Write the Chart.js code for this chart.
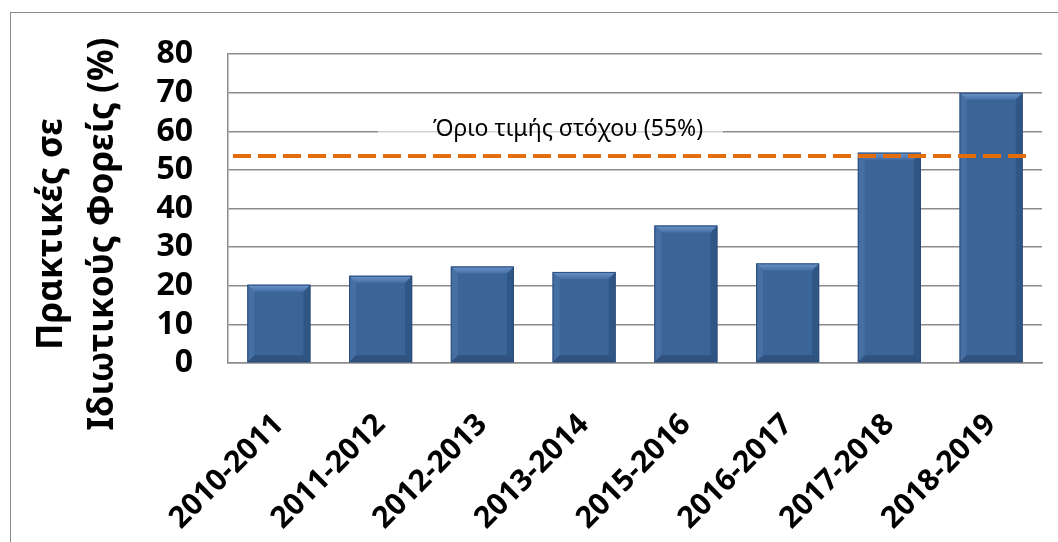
<!DOCTYPE html>
<html lang="el">
<head>
  <meta charset="UTF-8">
  <title>Πρακτικές σε Ιδιωτικούς Φορείς</title>
  <script src="https://cdn.jsdelivr.net/npm/chart.js"></script>
  <style>
    html, body { margin: 0; padding: 0; background: #fff; overflow: hidden; }
    #wrap { position: relative; width: 1058px; height: 542px; }
    #frame {
      position: absolute; left: 10px; top: 12px; width: 1100px; height: 600px;
      border: 1.5px solid #8c8c8c; pointer-events: none;
    }
  </style>
</head>
<body>
  <div id="wrap">
    <canvas id="practiceChart"></canvas>
    <div id="frame"></div>
  </div>

  <script>
    var years = ["2010-2011", "2011-2012", "2012-2013", "2013-2014", "2015-2016", "2016-2017", "2017-2018", "2018-2019"];
    var shares = [20.3, 22.6, 25.0, 23.6, 35.6, 25.8, 54.5, 70.0];
    var yTicks = [0, 10, 20, 30, 40, 50, 60, 70, 80];
    var targetValue = 53.6;
    var targetLabel = "Όριο τιμής στόχου (55%)";
    var yTitle = ["Πρακτικές σε", "Ιδιωτικούς Φορείς (%)"];

    var FONT = "'Noto Sans', 'Open Sans', sans-serif";

    // bevel look on the bars, like the office chart
    var bevelPlugin = {
      id: "bevel",
      afterDatasetsDraw: function (chart) {
        var ctx = chart.ctx;
        var meta = chart.getDatasetMeta(0);
        meta.data.forEach(function (bar) {
          var p = bar.getProps(["x", "y", "base", "width"], true);
          var l = p.x - p.width / 2, r = p.x + p.width / 2, t = p.y, b = p.base;
          var e = 7;
          ctx.save();
          var g = ctx.createLinearGradient(0, t, 0, t + e);
          g.addColorStop(0, "#6b96cc");
          g.addColorStop(1, "#4671a6");
          ctx.fillStyle = g;
          ctx.beginPath();
          ctx.moveTo(l, t); ctx.lineTo(r, t); ctx.lineTo(r - e, t + e); ctx.lineTo(l + e, t + e);
          ctx.closePath(); ctx.fill();
          ctx.fillStyle = "rgba(80,120,175,0.55)";
          ctx.beginPath();
          ctx.moveTo(l, t); ctx.lineTo(l + e, t + e); ctx.lineTo(l + e, b - e); ctx.lineTo(l, b);
          ctx.closePath(); ctx.fill();
          ctx.fillStyle = "rgba(30,60,100,0.35)";
          ctx.beginPath();
          ctx.moveTo(r, t); ctx.lineTo(r - e, t + e); ctx.lineTo(r - e, b - e); ctx.lineTo(r, b);
          ctx.closePath(); ctx.fill();
          ctx.fillStyle = "rgba(25,50,90,0.35)";
          ctx.beginPath();
          ctx.moveTo(l, b); ctx.lineTo(l + e, b - e); ctx.lineTo(r - e, b - e); ctx.lineTo(r, b);
          ctx.closePath(); ctx.fill();
          ctx.strokeStyle = "#2c4d7a";
          ctx.lineWidth = 1;
          ctx.strokeRect(l + 0.5, t + 0.5, p.width - 1, b - t - 1);
          ctx.restore();
        });
      }
    };

    // dashed target line with its label
    var targetPlugin = {
      id: "target",
      afterDatasetsDraw: function (chart) {
        var ctx = chart.ctx;
        var area = chart.chartArea;
        var y = chart.scales.y.getPixelForValue(targetValue);
        ctx.save();
        ctx.strokeStyle = "#e46c0a";
        ctx.lineWidth = 4;
        ctx.setLineDash([18, 7]);
        ctx.beginPath();
        ctx.moveTo(area.left + 5, y);
        ctx.lineTo(area.right - 9, y);
        ctx.stroke();
        ctx.setLineDash([]);

        var ty = chart.scales.y.getPixelForValue(60);
        ctx.fillStyle = "rgba(255,255,255,0.6)";
        ctx.fillRect(area.left + 150, ty - 16, 345, y - ty + 14);
        ctx.fillStyle = "#000";
        ctx.font = "23px " + FONT;
        ctx.textAlign = "center";
        ctx.textBaseline = "middle";
        ctx.fillText(targetLabel, area.left + 340, ty - 2);
        ctx.restore();
      }
    };

    // two line rotated axis title
    var titlePlugin = {
      id: "ytitle",
      afterDraw: function (chart) {
        var ctx = chart.ctx;
        ctx.save();
        ctx.fillStyle = "#000";
        ctx.font = "bold 35px " + FONT;
        ctx.textAlign = "center";
        ctx.textBaseline = "alphabetic";
        ctx.translate(0, 234);
        ctx.rotate(-Math.PI / 2);
        ctx.fillText(yTitle[0], 0, 62);
        ctx.fillText(yTitle[1], 0, 113);
        ctx.restore();
      }
    };

    var ctx = document.getElementById("practiceChart").getContext("2d");
    var practiceChart = new Chart(ctx, {
      type: "bar",
      data: {
        labels: years,
        datasets: [{
          label: yTitle.join(" "),
          data: shares,
          backgroundColor: "#3b6497",
          borderWidth: 0,
          barPercentage: 0.62,
          categoryPercentage: 1
        }]
      },
      options: {
        responsive: true,
        maintainAspectRatio: false,
        animation: false,
        layout: { padding: { top: 49, right: 16, left: 0, bottom: 0 } },
        plugins: {
          legend: { display: false },
          tooltip: { enabled: false }
        },
        scales: {
          x: {
            grid: { display: false },
            border: { display: true, color: "#8c8c8c", width: 1.5 },
            ticks: {
              color: "#000",
              font: { family: FONT, size: 30, weight: "bold" },
              maxRotation: 45,
              minRotation: 45,
              autoSkip: false,
              padding: 36
            },
            afterFit: function (scale) { scale.height = 179; }
          },
          y: {
            min: 0,
            max: 80,
            afterBuildTicks: function (scale) {
              scale.ticks = yTicks.map(function (v) { return { value: v }; });
            },
            grid: { color: "#8c8c8c", lineWidth: 1.5, drawTicks: false },
            border: { display: true, color: "#8c8c8c", width: 1.5 },
            ticks: {
              color: "#000",
              font: { family: FONT, size: 32, weight: "bold" },
              autoSkip: false,
              padding: 35
            },
            afterFit: function (scale) { scale.width = 228; }
          }
        }
      },
      plugins: [bevelPlugin, targetPlugin, titlePlugin]
    });
  </script>
</body>
</html>
